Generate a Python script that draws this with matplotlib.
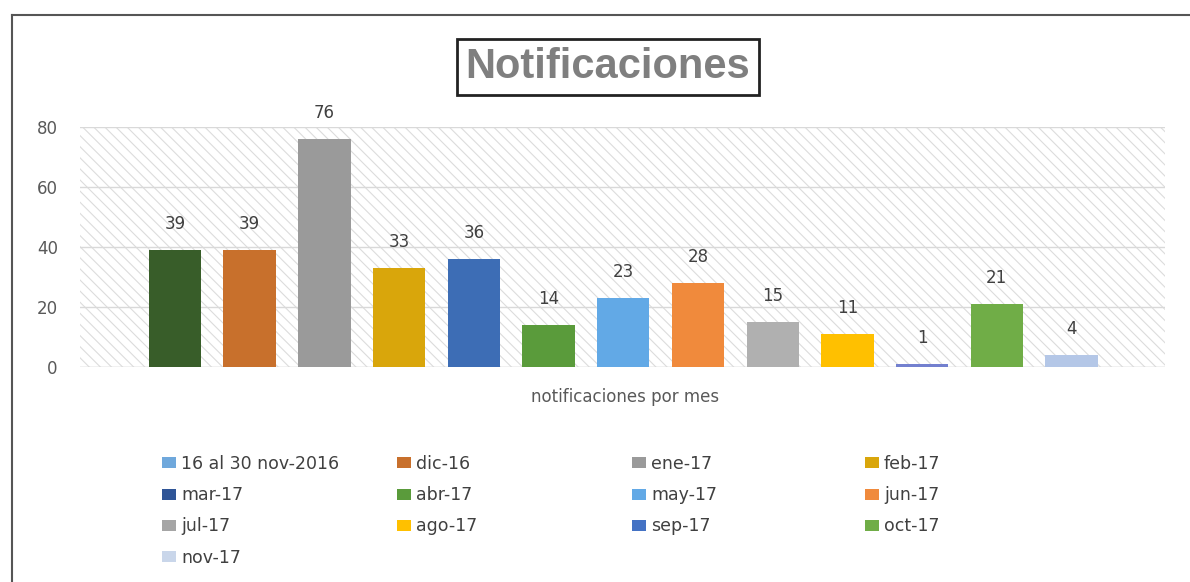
#!/usr/bin/env python3
import matplotlib
matplotlib.use("Agg")
import matplotlib.pyplot as plt
from matplotlib.patches import Patch, Rectangle
from matplotlib.lines import Line2D

# data
months = ["16 al 30 nov-2016", "dic-16", "ene-17", "feb-17", "mar-17",
          "abr-17", "may-17", "jun-17", "jul-17", "ago-17", "sep-17",
          "oct-17", "nov-17"]
counts = [39, 39, 76, 33, 36, 14, 23, 28, 15, 11, 1, 21, 4]
bar_colors = ["#385D29", "#C8702C", "#9A9A9A", "#D9A60B", "#3D6DB5",
              "#5A9B3B", "#62A9E6", "#F08A3C", "#B0B0B0", "#FFC000",
              "#7380CF", "#70AD47", "#B4C7E7"]
legend_colors = ["#6FA8DC", "#C8702C", "#9A9A9A", "#D9A60B", "#2F5597",
                 "#5A9B3B", "#62A9E6", "#F08A3C", "#A5A5A5", "#FFC000",
                 "#4472C4", "#70AD47", "#C9D6EA"]
y_ticks = [0, 20, 40, 60, 80]

W, H = 1190, 582
plt.rcParams["font.family"] = ["DejaVu Sans"]
plt.rcParams["hatch.linewidth"] = 0.8
plt.rcParams["hatch.color"] = "#DCDCDC"

fig = plt.figure(figsize=(W / 100, H / 100), dpi=100)
ax = fig.add_axes([80 / W, 1 - 367 / H, (1165 - 80) / W, (367 - 127) / H])

# hatched plot background
ax.add_patch(Rectangle((0, 0), 1, 1, transform=ax.transAxes, facecolor="white",
                       edgecolor="#DCDCDC", hatch="\\\\\\", linewidth=0,
                       zorder=0))

x = list(range(len(counts)))
bars = ax.bar(x, counts, width=0.7, color=bar_colors, zorder=3)
for b, v in zip(bars, counts):
    ax.annotate(str(v), (b.get_x() + b.get_width() / 2, v),
                xytext=(0, 12), textcoords="offset points",
                ha="center", va="bottom", fontsize=12, color="#404040")

ax.set_xlim(-1.27, len(counts) - 1 + 1.25)
ax.set_ylim(0, 80)
ax.set_yticks(y_ticks)
ax.tick_params(axis="y", length=0, pad=16, labelsize=12, labelcolor="#595959")
ax.set_xticks([])
ax.yaxis.grid(True, color="#D9D9D9", linewidth=1)
ax.set_axisbelow(True)
for s in ax.spines.values():
    s.set_visible(False)
ax.axhline(0, color="#D9D9D9", linewidth=1, zorder=2)

fig.text(625 / W, 1 - 397 / H, "notificaciones por mes", ha="center",
         va="center", fontsize=12, color="#595959")

# title in a box
fig.text(608 / W, 1 - 67 / H, "Notificaciones", ha="center", va="center",
         fontsize=30, fontweight="bold", family="Liberation Sans",
         color="#7F7F7F",
         bbox=dict(boxstyle="square,pad=0.2", facecolor="white",
                   edgecolor="#222222", linewidth=2))

# legend, four columns filled row by row
col_x = [162, 397, 632, 865]
for c in range(4):
    idx = list(range(c, len(months), 4))
    handles = [Patch(facecolor=legend_colors[i], edgecolor="none") for i in idx]
    labels = [months[i] for i in idx]
    fig.legend(handles, labels, loc="upper left",
               bbox_to_anchor=(col_x[c] / W, 1 - 455 / H),
               bbox_transform=fig.transFigure, frameon=False, fontsize=12.5,
               handlelength=0.8, handleheight=0.6, handletextpad=0.3,
               labelspacing=0.76, borderpad=0, borderaxespad=0,
               labelcolor="#404040")

# outer frame (top and left edges)
fig.add_artist(Line2D([12 / W, 1], [1 - 15 / H, 1 - 15 / H],
                      transform=fig.transFigure, color="#555555", linewidth=1.5))
fig.add_artist(Line2D([12 / W, 12 / W], [0, 1 - 15 / H],
                      transform=fig.transFigure, color="#555555", linewidth=1.5))

fig.savefig("out.png", dpi=100)
